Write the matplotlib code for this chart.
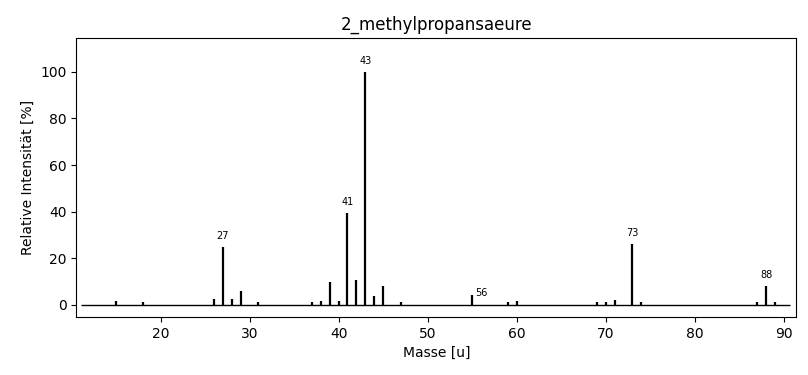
import matplotlib
matplotlib.use("Agg")
import matplotlib.pyplot as plt

# m/z values and relative intensities
masses = [15, 18, 26, 27, 28, 29, 31, 37, 38, 39, 40, 41, 42, 43, 44, 45, 47,
          55, 59, 60, 69, 70, 71, 73, 74, 87, 88, 89]
intensities = [1.8, 1.0, 2.6, 25.0, 2.6, 5.7, 1.3, 1.3, 1.8, 9.6, 1.8, 39.5, 10.5, 100.0, 3.9, 8.2, 1.0,
               4.4, 1.0, 1.8, 1.0, 1.0, 2.2, 26.3, 1.3, 1.3, 8.2, 1.0]

# labelled peaks: label position and text
label_x = [27, 41, 43, 56, 73, 88]
label_y = [27.5, 42.0, 102.5, 3.1, 28.8, 10.7]
label_text = ["27", "41", "43", "56", "73", "88"]

fig = plt.figure(figsize=(8.08, 3.75), dpi=100)
ax = fig.add_axes([0.0945, 0.155, 0.891, 0.744])

ax.vlines(masses, 0, intensities, colors="black", linewidth=1.6)
ax.hlines(0, 11.05, 90.7, colors="black", linewidth=1.0)
for x, y, t in zip(label_x, label_y, label_text):
    ax.text(x, y, t, fontsize=7, ha="center", va="bottom")

ax.set_xlim(10.55, 91.4)
ax.set_ylim(-5.2, 114.6)
ax.set_xticks([20, 30, 40, 50, 60, 70, 80, 90])
ax.set_yticks([0, 20, 40, 60, 80, 100])
ax.set_xlabel("Masse [u]")
ax.set_ylabel("Relative Intensität [%]")
ax.set_title("2_methylpropansaeure")

fig.savefig("out.png", dpi=100)
